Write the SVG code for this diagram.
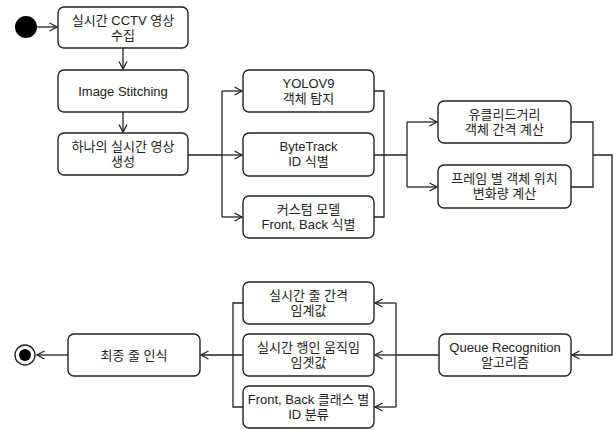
<svg xmlns="http://www.w3.org/2000/svg" width="616" height="430" viewBox="0 0 616 430">
<defs>
<marker id="arr" markerUnits="userSpaceOnUse" markerWidth="12" markerHeight="12" refX="8.5" refY="5" orient="auto">
<path d="M1,1 L8.5,5 L1,9" fill="none" stroke="#222" stroke-width="1.3"/>
</marker>
</defs>
<style>
.box{fill:#fff;stroke:#222;stroke-width:1.4}
.t{font-family:"Liberation Sans","Noto Sans CJK KR",Arial,sans-serif;font-size:13px;fill:#222;text-anchor:middle}
.c{fill:none;stroke:#222;stroke-width:1.3}
.a{fill:none;stroke:#222;stroke-width:1.3;marker-end:url(#arr)}
</style>
<rect width="616" height="430" fill="#fff"/>
<g id="connectors">
<path class="a" d="M37,27 H57"/>
<path class="a" d="M123,48 V69"/>
<path class="a" d="M123,112 V132"/>
<path class="c" d="M188,155 H222"/>
<path class="c" d="M222,91 V217"/>
<path class="a" d="M222,91 H242"/>
<path class="a" d="M222,155 H242"/>
<path class="a" d="M222,217 H242"/>
<path class="c" d="M374,91 H384 V217 H374"/>
<path class="c" d="M374,155 H407"/>
<path class="c" d="M407,122 V187"/>
<path class="a" d="M407,122 H437"/>
<path class="a" d="M407,187 H437"/>
<path class="c" d="M571,122 H593 V187 H571"/>
<path class="a" d="M593,155 H612 V355 H572"/>
<path class="c" d="M439,355 H396"/>
<path class="c" d="M396,303 V407"/>
<path class="a" d="M396,303 H375"/>
<path class="a" d="M396,355 H375"/>
<path class="a" d="M396,407 H375"/>
<path class="c" d="M243,303 H233 V407 H243"/>
<path class="a" d="M243,355 H201"/>
<path class="a" d="M68,355 H37"/>
</g>
<g id="start"><circle cx="26" cy="27" r="11" fill="#000"/></g>
<g id="n1"><rect class="box" x="58" y="7" width="130" height="41" rx="6"/><text class="t" x="123" y="25">실시간 CCTV 영상</text><text class="t" x="123" y="40">수집</text></g>
<g id="n2"><rect class="box" x="58" y="70" width="130" height="42" rx="6"/><text class="t" x="123" y="96">Image Stitching</text></g>
<g id="n3"><rect class="box" x="58" y="133" width="130" height="42" rx="6"/><text class="t" x="123" y="151">하나의 실시간 영상</text><text class="t" x="123" y="166">생성</text></g>
<g id="n4"><rect class="box" x="243" y="70" width="131" height="42" rx="6"/><text class="t" x="308.5" y="88">YOLOV9</text><text class="t" x="308.5" y="103">객체 탐지</text></g>
<g id="n5"><rect class="box" x="243" y="133" width="131" height="43" rx="6"/><text class="t" x="308.5" y="151">ByteTrack</text><text class="t" x="308.5" y="166">ID 식별</text></g>
<g id="n6"><rect class="box" x="243" y="196" width="131" height="42" rx="6"/><text class="t" x="308.5" y="214">커스텀 모델</text><text class="t" x="308.5" y="229">Front, Back 식별</text></g>
<g id="n7"><rect class="box" x="438" y="101" width="133" height="42" rx="6"/><text class="t" x="504.5" y="119">유클리드거리</text><text class="t" x="504.5" y="134">객체 간격 계산</text></g>
<g id="n8"><rect class="box" x="438" y="165" width="133" height="43" rx="6"/><text class="t" x="504.5" y="183">프레임 별 객체 위치</text><text class="t" x="504.5" y="198">변화량 계산</text></g>
<g id="n9"><rect class="box" x="439" y="334" width="132" height="42" rx="6"/><text class="t" x="505" y="352">Queue Recognition</text><text class="t" x="505" y="367">알고리즘</text></g>
<g id="n10"><rect class="box" x="243" y="282" width="131" height="42" rx="6"/><text class="t" x="308.5" y="300">실시간 줄 간격</text><text class="t" x="308.5" y="315">임계값</text></g>
<g id="n11"><rect class="box" x="243" y="334" width="131" height="42" rx="6"/><text class="t" x="308.5" y="352">실시간 행인 움직임</text><text class="t" x="308.5" y="367">임곗값</text></g>
<g id="n12"><rect class="box" x="243" y="386" width="131" height="42" rx="6"/><text class="t" x="308.5" y="404">Front, Back 클래스 별</text><text class="t" x="308.5" y="419">ID 분류</text></g>
<g id="n13"><rect class="box" x="68" y="334" width="132" height="42" rx="6"/><text class="t" x="134" y="360">최종 줄 인식</text></g>
<g id="end"><circle cx="25" cy="355" r="10" fill="#fff" stroke="#222" stroke-width="1.4"/><circle cx="25" cy="355" r="6" fill="#000"/></g>
</svg>
